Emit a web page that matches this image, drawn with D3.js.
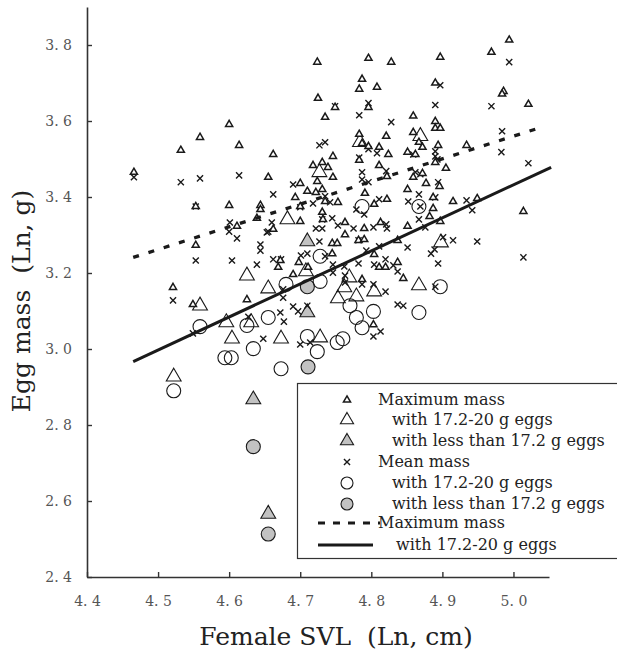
<!DOCTYPE html>
<html>
<head>
<meta charset="utf-8">
<script src="https://cdn.jsdelivr.net/npm/d3@7"></script>
<style>
  body { margin: 0; background: #fff; }
  svg text { font-family: "DejaVu Serif", serif; }
</style>
</head>
<body>
<div id="chart"></div>
<script>
// values, [SVL (ln cm), egg mass (ln g)]
const xTicks = [4.4, 4.5, 4.6, 4.7, 4.8, 4.9, 5.0];
const yTicks = [2.4, 2.6, 2.8, 3.0, 3.2, 3.4, 3.6, 3.8];

// maximum mass, all clutches (small triangles)
const maxMass = [
  [4.466,3.465],[4.532,3.523],[4.559,3.557],[4.600,3.591],[4.614,3.536],[4.662,3.512],
  [4.655,3.452],[4.600,3.378],[4.553,3.375],[4.611,3.323],[4.553,3.273],[4.521,3.162],
  [4.549,3.117],[4.625,3.130],[4.644,3.378],[4.644,3.367],[4.639,3.344],[4.662,3.315],
  [4.693,3.399],[4.700,3.436],[4.700,3.375],[4.700,3.336],[4.710,3.415],[4.722,3.412],
  [4.731,3.420],[4.735,3.388],[4.718,3.483],[4.724,3.755],[4.725,3.660],[4.724,3.441],
  [4.698,3.228],[4.690,3.196],[4.669,3.215],[4.672,3.233],[4.711,3.215],[4.803,3.064],
  [4.796,3.765],[4.828,3.755],[4.897,3.768],[4.969,3.781],[4.994,3.813],[4.787,3.710],
  [4.783,3.684],[4.808,3.689],[4.749,3.636],[4.796,3.636],[4.735,3.610],[4.859,3.613],
  [4.890,3.700],[4.986,3.678],[4.984,3.671],[5.021,3.644],[4.890,3.599],[4.890,3.581],
  [4.897,3.581],[4.783,3.565],[4.787,3.541],[4.796,3.533],[4.821,3.560],[4.859,3.570],
  [4.867,3.544],[4.872,3.531],[4.894,3.536],[4.934,3.536],[4.811,3.531],[4.824,3.512],
  [4.746,3.507],[4.783,3.497],[4.851,3.518],[4.862,3.512],[4.811,3.483],[4.731,3.491],
  [4.739,3.478],[4.746,3.452],[4.905,3.476],[4.890,3.491],[4.859,3.452],[4.872,3.462],
  [4.822,3.454],[4.877,3.436],[4.896,3.428],[4.851,3.420],[4.791,3.410],[4.753,3.386],
  [4.822,3.394],[4.887,3.399],[4.915,3.388],[4.804,3.381],[4.887,3.370],[4.882,3.349],
  [4.897,3.336],[4.949,3.396],[5.014,3.362],[4.731,3.360],[4.732,3.341],[4.763,3.333],
  [4.813,3.333],[4.851,3.323],[4.790,3.317],[4.763,3.301],[4.745,3.278],[4.752,3.278],
  [4.782,3.286],[4.790,3.288],[4.837,3.286],[4.745,3.251],[4.804,3.249],[4.811,3.215],
  [4.820,3.215],[4.837,3.228],[4.845,3.186],[4.787,3.183]
];

// maximum mass, clutches with 17.2-20 g eggs (large open triangles)
const maxMassMid = [
  [4.522,2.927],[4.559,3.114],[4.596,3.070],[4.604,3.027],[4.625,3.193],[4.655,3.159],
  [4.631,3.070],[4.673,3.027],[4.682,3.341],[4.708,3.204],[4.728,3.030],[4.727,3.465],
  [4.784,3.544],[4.869,3.560],[4.898,3.280],[4.867,3.167],[4.769,3.188],[4.762,3.162],
  [4.753,3.133],[4.779,3.138],[4.804,3.151]
];

// maximum mass, clutches with eggs under 17.2 g (grey triangles)
const maxMassLow = [[4.634,2.867],[4.655,2.566],[4.710,3.283],[4.710,3.096]];

// mean mass, all clutches (crosses)
const meanMass = [
  [4.466,3.452],[4.532,3.439],[4.559,3.449],[4.614,3.457],[4.662,3.407],[4.553,3.233],
  [4.604,3.233],[4.521,3.128],[4.553,3.375],[4.601,3.333],[4.600,3.309],[4.611,3.291],
  [4.644,3.275],[4.644,3.259],[4.639,3.222],[4.655,3.309],[4.662,3.236],[4.673,3.236],
  [4.690,3.433],[4.700,3.373],[4.718,3.383],[4.722,3.317],[4.731,3.317],[4.727,3.536],
  [4.735,3.544],[4.701,3.246],[4.676,3.157],[4.676,3.135],[4.690,3.112],[4.710,3.114],
  [4.660,3.333],[4.653,3.307],[4.727,3.283],[4.672,3.096],[4.697,3.099],[4.549,3.041],
  [4.627,3.085],[4.677,3.072],[4.648,3.027],[4.700,3.012],[4.710,3.251],[4.714,3.017],
  [4.994,3.755],[4.897,3.694],[4.890,3.642],[4.969,3.639],[4.796,3.647],[4.749,3.639],
  [4.783,3.615],[4.828,3.597],[4.984,3.573],[4.983,3.518],[5.021,3.489],[4.796,3.526],
  [4.808,3.515],[4.783,3.504],[4.859,3.512],[4.890,3.520],[4.890,3.507],[4.893,3.499],
  [4.821,3.468],[4.787,3.465],[4.787,3.446],[4.796,3.439],[4.862,3.465],[4.869,3.460],
  [4.894,3.439],[4.867,3.407],[4.852,3.388],[4.811,3.394],[4.742,3.386],[4.735,3.402],
  [4.934,3.391],[4.942,3.365],[4.779,3.367],[4.790,3.354],[4.869,3.375],[4.890,3.399],
  [4.745,3.344],[4.731,3.341],[4.867,3.341],[4.753,3.325],[4.775,3.317],[4.803,3.320],
  [4.821,3.328],[4.822,3.317],[4.876,3.320],[4.782,3.286],[4.793,3.259],[4.811,3.270],
  [4.851,3.267],[4.884,3.251],[4.889,3.262],[4.901,3.294],[4.915,3.286],[4.949,3.283],
  [5.014,3.241],[4.894,3.225],[4.746,3.222],[4.746,3.201],[4.762,3.217],[4.782,3.225],
  [4.804,3.222],[4.820,3.236],[4.837,3.204],[4.837,3.117],[4.845,3.114],[4.820,3.151],
  [4.787,3.170],[4.803,3.170],[4.735,3.244],[4.763,3.193],[4.763,3.175],[4.813,3.046],
  [4.803,3.033],[4.890,3.164],[4.831,3.220]
];

// mean mass, clutches with 17.2-20 g eggs (open circles)
const meanMassMid = [
  [4.522,2.890],[4.559,3.059],[4.594,2.977],[4.603,2.977],[4.625,3.062],[4.634,3.001],
  [4.655,3.083],[4.680,3.170],[4.673,2.948],[4.710,3.033],[4.724,2.993],[4.728,3.178],
  [4.728,3.244],[4.787,3.375],[4.867,3.375],[4.897,3.164],[4.770,3.114],[4.803,3.099],
  [4.779,3.083],[4.867,3.096],[4.787,3.056],[4.760,3.027],[4.752,3.017]
];

// mean mass, clutches with eggs under 17.2 g (grey circles)
const meanMassLow = [[4.710,3.164],[4.634,2.743],[4.655,2.513],[4.711,2.953]];

// fitted lines (end points)
const maxLine = [[4.465,3.241],[5.040,3.584]];
const midLine = [[4.465,2.967],[5.053,3.478]];

const legendLabels = [
  "Maximum mass", "with 17.2-20 g eggs", "with less than 17.2 g eggs",
  "Mean mass", "with 17.2-20 g eggs", "with less than 17.2 g eggs",
  "Maximum mass", "with 17.2-20 g eggs"
];

const width = 617, height = 650;
const grey = "#c2c2c2", ink = "#1a1a1a";

const svg = d3.select("#chart").append("svg")
  .attr("width", width)
  .attr("height", height);

const x = d3.scaleLinear().domain([4.4, 5.05]).range([87, 549]);
const y = d3.scaleLinear().domain([2.4, 3.9]).range([577, 7]);

const fmt = d => d.toFixed(1).replace(".", ". ");

// axes
const xAxis = svg.append("g")
  .attr("transform", "translate(0,577)")
  .call(d3.axisBottom(x).tickValues(xTicks).tickSizeInner(-5).tickSizeOuter(0).tickPadding(19).tickFormat(fmt));
const yAxis = svg.append("g")
  .attr("transform", "translate(87,0)")
  .call(d3.axisLeft(y).tickValues(yTicks).tickSizeInner(-5).tickSizeOuter(0).tickPadding(15).tickFormat(fmt));

[xAxis, yAxis].forEach(function(a){
  a.select(".domain").attr("stroke", "#333").attr("stroke-width", 1.6);
  a.selectAll(".tick line").attr("stroke", "#333").attr("stroke-width", 1.4);
  a.selectAll(".tick text")
    .attr("fill", "#555")
    .style("font-size", "14px")
    .style("white-space", "pre");
});

// axis titles
svg.append("text")
  .attr("x", 336).attr("y", 645)
  .attr("text-anchor", "middle")
  .attr("fill", "#222")
  .style("font-size", "25px")
  .style("white-space", "pre")
  .text("Female SVL  (Ln, cm)");

svg.append("text")
  .attr("transform", "translate(30,301) rotate(-90)")
  .attr("text-anchor", "middle")
  .attr("fill", "#222")
  .style("font-size", "25px")
  .style("white-space", "pre")
  .text("Egg mass  (Ln, g)");

// symbols
const smallTri = d3.symbol(d3.symbolTriangle, 22);
const bigTri = d3.symbol(d3.symbolTriangle, 95);
const cross = d3.symbol(d3.symbolX, 26);

const plot = svg.append("g");

function drawSymbols(data, gen, fill, strokeW) {
  plot.append("g").selectAll("path")
    .data(data)
    .enter()
    .append("path")
    .attr("transform", d => "translate(" + x(d[0]) + "," + y(d[1]) + ")")
    .attr("d", gen)
    .attr("fill", fill)
    .attr("stroke", ink)
    .attr("stroke-width", strokeW);
}

function drawCircles(data, fill) {
  plot.append("g").selectAll("circle")
    .data(data)
    .enter()
    .append("circle")
    .attr("cx", d => x(d[0]))
    .attr("cy", d => y(d[1]))
    .attr("r", 7)
    .attr("fill", fill)
    .attr("stroke", ink)
    .attr("stroke-width", 1.1);
}

drawCircles(meanMassLow, grey);
drawSymbols(maxMassLow, bigTri, grey, 1.1);
drawCircles(meanMassMid, "none");
drawSymbols(maxMassMid, bigTri, "none", 1.1);
drawSymbols(meanMass, cross, "none", 1.4);
drawSymbols(maxMass, smallTri, "#fff", 1.5);

// fitted lines
const line = d3.line().x(d => x(d[0])).y(d => y(d[1]));
plot.append("path")
  .datum(maxLine)
  .attr("d", line)
  .attr("fill", "none")
  .attr("stroke", ink)
  .attr("stroke-width", 3.3)
  .attr("stroke-dasharray", "6,10");
plot.append("path")
  .datum(midLine)
  .attr("d", line)
  .attr("fill", "none")
  .attr("stroke", ink)
  .attr("stroke-width", 3);

// legend
const legend = svg.append("g");
legend.append("rect")
  .attr("x", 297.5).attr("y", 383.5)
  .attr("width", 340).attr("height", 175)
  .attr("fill", "#fff")
  .attr("stroke", "#333")
  .attr("stroke-width", 1.2);

const rowY = [400, 420, 441, 462, 483, 504, 523, 545];
const symX = 347;

legend.append("path").attr("transform", `translate(${symX},${rowY[0]})`)
  .attr("d", smallTri).attr("fill", "#fff").attr("stroke", ink).attr("stroke-width", 1.5);
legend.append("path").attr("transform", `translate(${symX},${rowY[1]})`)
  .attr("d", d3.symbol(d3.symbolTriangle, 75)).attr("fill", "none").attr("stroke", ink).attr("stroke-width", 1.1);
legend.append("path").attr("transform", `translate(${symX},${rowY[2]})`)
  .attr("d", d3.symbol(d3.symbolTriangle, 75)).attr("fill", grey).attr("stroke", ink).attr("stroke-width", 1.1);
legend.append("path").attr("transform", `translate(${symX},${rowY[3]})`)
  .attr("d", cross).attr("fill", "none").attr("stroke", ink).attr("stroke-width", 1.4);
legend.append("circle").attr("cx", symX).attr("cy", rowY[4]).attr("r", 6)
  .attr("fill", "none").attr("stroke", ink).attr("stroke-width", 1.1);
legend.append("circle").attr("cx", symX).attr("cy", rowY[5]).attr("r", 6)
  .attr("fill", grey).attr("stroke", ink).attr("stroke-width", 1.1);
legend.append("line").attr("x1", 318).attr("x2", 380).attr("y1", rowY[6]).attr("y2", rowY[6])
  .attr("stroke", ink).attr("stroke-width", 3).attr("stroke-dasharray", "7,8");
legend.append("line").attr("x1", 318).attr("x2", 373).attr("y1", rowY[7]).attr("y2", rowY[7])
  .attr("stroke", ink).attr("stroke-width", 3);

const textX = [378, 392, 392, 378, 392, 392, 378, 396];
legend.selectAll("text")
  .data(legendLabels)
  .enter()
  .append("text")
  .attr("x", (d, i) => textX[i])
  .attr("y", (d, i) => rowY[i] + 5)
  .attr("fill", "#222")
  .style("font-size", "16px")
  .text(d => d);
</script>
</body>
</html>
